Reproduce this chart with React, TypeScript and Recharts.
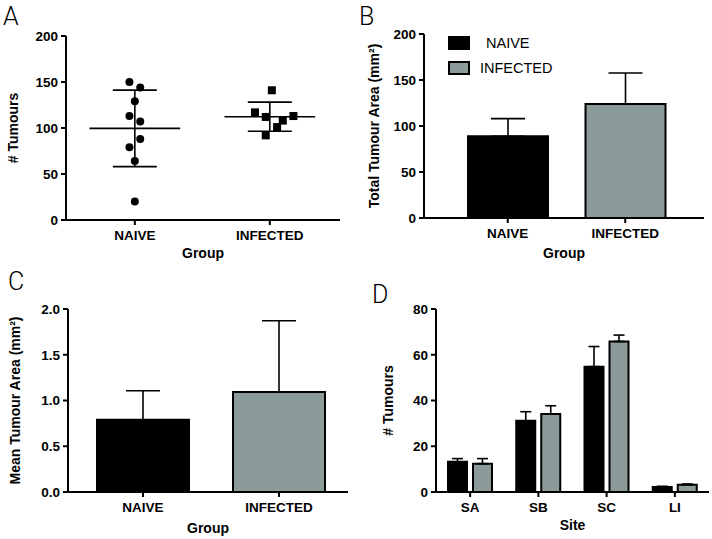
import React from 'react';
import {
  ScatterChart, Scatter, BarChart, Bar, Cell, XAxis, YAxis, ReferenceLine, ErrorBar, Legend,
} from 'recharts';

// Panel A: tumour counts per mouse
const groups = ['NAIVE', 'INFECTED'];
const naiveTumours = [150, 144, 129, 113, 107, 88, 79, 64, 20];
const naiveJitter = [-0.04, 0.04, 0, -0.04, 0.04, 0.04, -0.04, 0, 0];
const infectedTumours = [141, 117, 112, 113, 108, 101, 92];
const infectedJitter = [0.015, -0.11, -0.03, 0.175, 0.096, 0.054, -0.03];
const groupMeans = [99.6, 112.3];
const groupSD = [41.6, 15.8];

// Panel B: total tumour area
const totalArea = [88.8, 123.9];
const totalAreaSEM = [19.2, 33.7];

// Panel C: mean tumour area
const meanArea = [0.79, 1.093];
const meanAreaSEM = [0.317, 0.779];

// Panel D: tumours per site
const sites = ['SA', 'SB', 'SC', 'LI'];
const naiveSite = [13.2, 31.1, 54.8, 2.2];
const naiveSiteSEM = [1.4, 4.0, 8.8, 0.3];
const infectedSite = [12.4, 34.1, 65.8, 3.2];
const infectedSiteSEM = [2.2, 3.6, 2.8, 0.3];

const FONT = '"Liberation Sans", Arial, Helvetica, sans-serif';
const BLACK = '#000000';
const GREY = '#8b9b99';
const fills = [BLACK, GREY];

const tickStyle = { fill: '#000', fontSize: 13.5, fontWeight: 'bold', fontFamily: FONT };
const axisStyle = { stroke: '#000', strokeWidth: 2 };
const labelStyle = { fill: '#000', fontSize: 14, fontWeight: 'bold', fontFamily: FONT };

const naivePoints = naiveTumours.map((v, i) => ({ x: 1 + naiveJitter[i], y: v }));
const infectedPoints = infectedTumours.map((v, i) => ({ x: 2 + infectedJitter[i], y: v }));

const groupData = groups.map((g, i) => ({
  group: g,
  total: totalArea[i],
  totalErr: [0, totalAreaSEM[i]],
  mean: meanArea[i],
  meanErr: [0, meanAreaSEM[i]],
}));

const siteData = sites.map((s, i) => ({
  site: s,
  naive: naiveSite[i],
  naiveErr: [0, naiveSiteSEM[i]],
  infected: infectedSite[i],
  infectedErr: [0, infectedSiteSEM[i]],
}));

const Dot = (props: any) => <circle cx={props.cx} cy={props.cy} r={4} fill="#000" />;
const Square = (props: any) => (
  <rect x={props.cx - 4} y={props.cy - 4} width={8} height={8} fill="#000" />
);

const yLabel = (value: string, offset: number) => ({
  value, angle: -90, position: 'insideLeft' as const, offset, style: { ...labelStyle, textAnchor: 'middle' },
});
const xLabel = (value: string, offset: number) => ({
  value, position: 'insideBottom' as const, offset, style: labelStyle,
});

const LegendBox = () => (
  <div style={{ fontFamily: FONT, fontSize: 14.5, color: '#000' }}>
    {groups.map((g, i) => (
      <div key={g} style={{ display: 'flex', alignItems: 'center', height: 13, marginBottom: 12.5 }}>
        <div style={{ width: 18, height: 10, background: fills[i], border: '2px solid #000', marginRight: i === 0 ? 16 : 10 }} />
        <span style={{ whiteSpace: 'pre' }}>{g}</span>
      </div>
    ))}
  </div>
);

const MEAN_HALF = 0.336;
const CAP_HALF = 0.163;

function PanelA() {
  return (
    <ScatterChart width={356} height={270} margin={{ top: 36, right: 16, bottom: 0, left: 0 }}>
      <XAxis type="number" dataKey="x" domain={[0.49, 2.52]} ticks={[1, 2]} allowDataOverflow
        tickFormatter={(v: number) => groups[Math.round(v) - 1]} tick={tickStyle} axisLine={axisStyle}
        tickLine={axisStyle} tickSize={5} tickMargin={5} height={50} label={xLabel('Group', 12)} />
      <YAxis type="number" dataKey="y" domain={[0, 200]} ticks={[0, 50, 100, 150, 200]} tick={tickStyle}
        axisLine={axisStyle} tickLine={axisStyle} tickSize={5} tickMargin={3} width={66}
        label={yLabel('# Tumours', 13)} />
      {groupMeans.map((m, i) => (
        <React.Fragment key={i}>
          <ReferenceLine segment={[{ x: i + 1 - MEAN_HALF, y: m }, { x: i + 1 + MEAN_HALF, y: m }]} stroke="#000" strokeWidth={1.6} />
          <ReferenceLine segment={[{ x: i + 1 - CAP_HALF, y: m + groupSD[i] }, { x: i + 1 + CAP_HALF, y: m + groupSD[i] }]} stroke="#000" strokeWidth={1.6} />
          <ReferenceLine segment={[{ x: i + 1 - CAP_HALF, y: m - groupSD[i] }, { x: i + 1 + CAP_HALF, y: m - groupSD[i] }]} stroke="#000" strokeWidth={1.6} />
          <ReferenceLine segment={[{ x: i + 1, y: m - groupSD[i] }, { x: i + 1, y: m + groupSD[i] }]} stroke="#000" strokeWidth={1.6} />
        </React.Fragment>
      ))}
      <Scatter data={naivePoints} shape={Dot} isAnimationActive={false} />
      <Scatter data={infectedPoints} shape={Square} isAnimationActive={false} />
    </ScatterChart>
  );
}

function PanelB() {
  return (
    <BarChart width={356} height={270} data={groupData} margin={{ top: 34, right: 8, bottom: 0, left: 0 }}>
      <XAxis dataKey="group" padding={{ left: 25, right: 20 }} tick={tickStyle} axisLine={axisStyle}
        tickLine={axisStyle} tickSize={5} tickMargin={5} height={52} label={xLabel('Group', 12)} />
      <YAxis domain={[0, 200]} ticks={[0, 50, 100, 150, 200]} tick={tickStyle} axisLine={axisStyle}
        tickLine={axisStyle} tickSize={5} tickMargin={3} width={68}
        label={yLabel('Total Tumour Area (mm²)', 18.5)} />
      <Legend content={LegendBox} layout="horizontal" verticalAlign="middle" align="center"
        wrapperStyle={{ top: 36, left: 92, width: 'auto' }} />
      <Bar dataKey="total" barSize={80} stroke="#000" strokeWidth={2} isAnimationActive={false}>
        {groupData.map((d, i) => <Cell key={d.group} fill={fills[i]} />)}
        <ErrorBar dataKey="totalErr" width={17} stroke="#000" strokeWidth={1.6} direction="y" />
      </Bar>
    </BarChart>
  );
}

function PanelC() {
  return (
    <BarChart width={356} height={269} data={groupData} margin={{ top: 39, right: 8, bottom: 0, left: 0 }}>
      <XAxis dataKey="group" padding={{ left: 7, right: 1 }} tick={tickStyle} axisLine={axisStyle}
        tickLine={axisStyle} tickSize={5} tickMargin={5} height={47} label={xLabel('Group', 6)} />
      <YAxis domain={[0, 2]} ticks={[0, 0.5, 1, 1.5, 2]} tickFormatter={(v: number) => v.toFixed(1)}
        tick={tickStyle} axisLine={axisStyle} tickLine={axisStyle} tickSize={5} tickMargin={3} width={68}
        label={yLabel('Mean Tumour Area (mm²)', 15)} />
      <Bar dataKey="mean" barSize={92} stroke="#000" strokeWidth={2} isAnimationActive={false}>
        {groupData.map((d, i) => <Cell key={d.group} fill={fills[i]} />)}
        <ErrorBar dataKey="meanErr" width={17} stroke="#000" strokeWidth={1.6} direction="y" />
      </Bar>
    </BarChart>
  );
}

function PanelD() {
  return (
    <BarChart width={356} height={269} data={siteData} barGap={6} margin={{ top: 39, right: 3, bottom: 0, left: 0 }}>
      <XAxis dataKey="site" tick={tickStyle} axisLine={axisStyle} tickLine={axisStyle} tickSize={5}
        tickMargin={5} height={47} label={xLabel('Site', 9)} />
      <YAxis domain={[0, 80]} ticks={[0, 20, 40, 60, 80]} tick={tickStyle} axisLine={axisStyle}
        tickLine={axisStyle} tickSize={5} tickMargin={3} width={80} label={yLabel('# Tumours', 32)} />
      <Bar dataKey="naive" barSize={19} fill={BLACK} stroke="#000" strokeWidth={2} isAnimationActive={false}>
        <ErrorBar dataKey="naiveErr" width={5.5} stroke="#000" strokeWidth={1.6} direction="y" />
      </Bar>
      <Bar dataKey="infected" barSize={19} fill={GREY} stroke="#000" strokeWidth={2} isAnimationActive={false}>
        <ErrorBar dataKey="infectedErr" width={5.5} stroke="#000" strokeWidth={1.6} direction="y" />
      </Bar>
    </BarChart>
  );
}

const PanelLetter = ({ text, left, top }: { text: string; left: number; top: number }) => (
  <div style={{
    position: 'absolute', left, top, fontFamily: 'Roboto, Lato, sans-serif', fontWeight: 300,
    fontSize: 25, lineHeight: '25px', color: '#000', pointerEvents: 'none',
  }}>
    {text}
  </div>
);

export default function App() {
  return (
    <div style={{ position: 'absolute', left: 0, top: 0, width: 712, height: 539, background: '#fff' }}>
      <div style={{ position: 'absolute', left: 0, top: 0 }}><PanelA /></div>
      <div style={{ position: 'absolute', left: 356, top: 0 }}><PanelB /></div>
      <div style={{ position: 'absolute', left: 0, top: 270 }}><PanelC /></div>
      <div style={{ position: 'absolute', left: 356, top: 270 }}><PanelD /></div>
      <PanelLetter text="A" left={3} top={4} />
      <PanelLetter text="B" left={359} top={4} />
      <PanelLetter text="C" left={8} top={269} />
      <PanelLetter text="D" left={372} top={282} />
    </div>
  );
}
